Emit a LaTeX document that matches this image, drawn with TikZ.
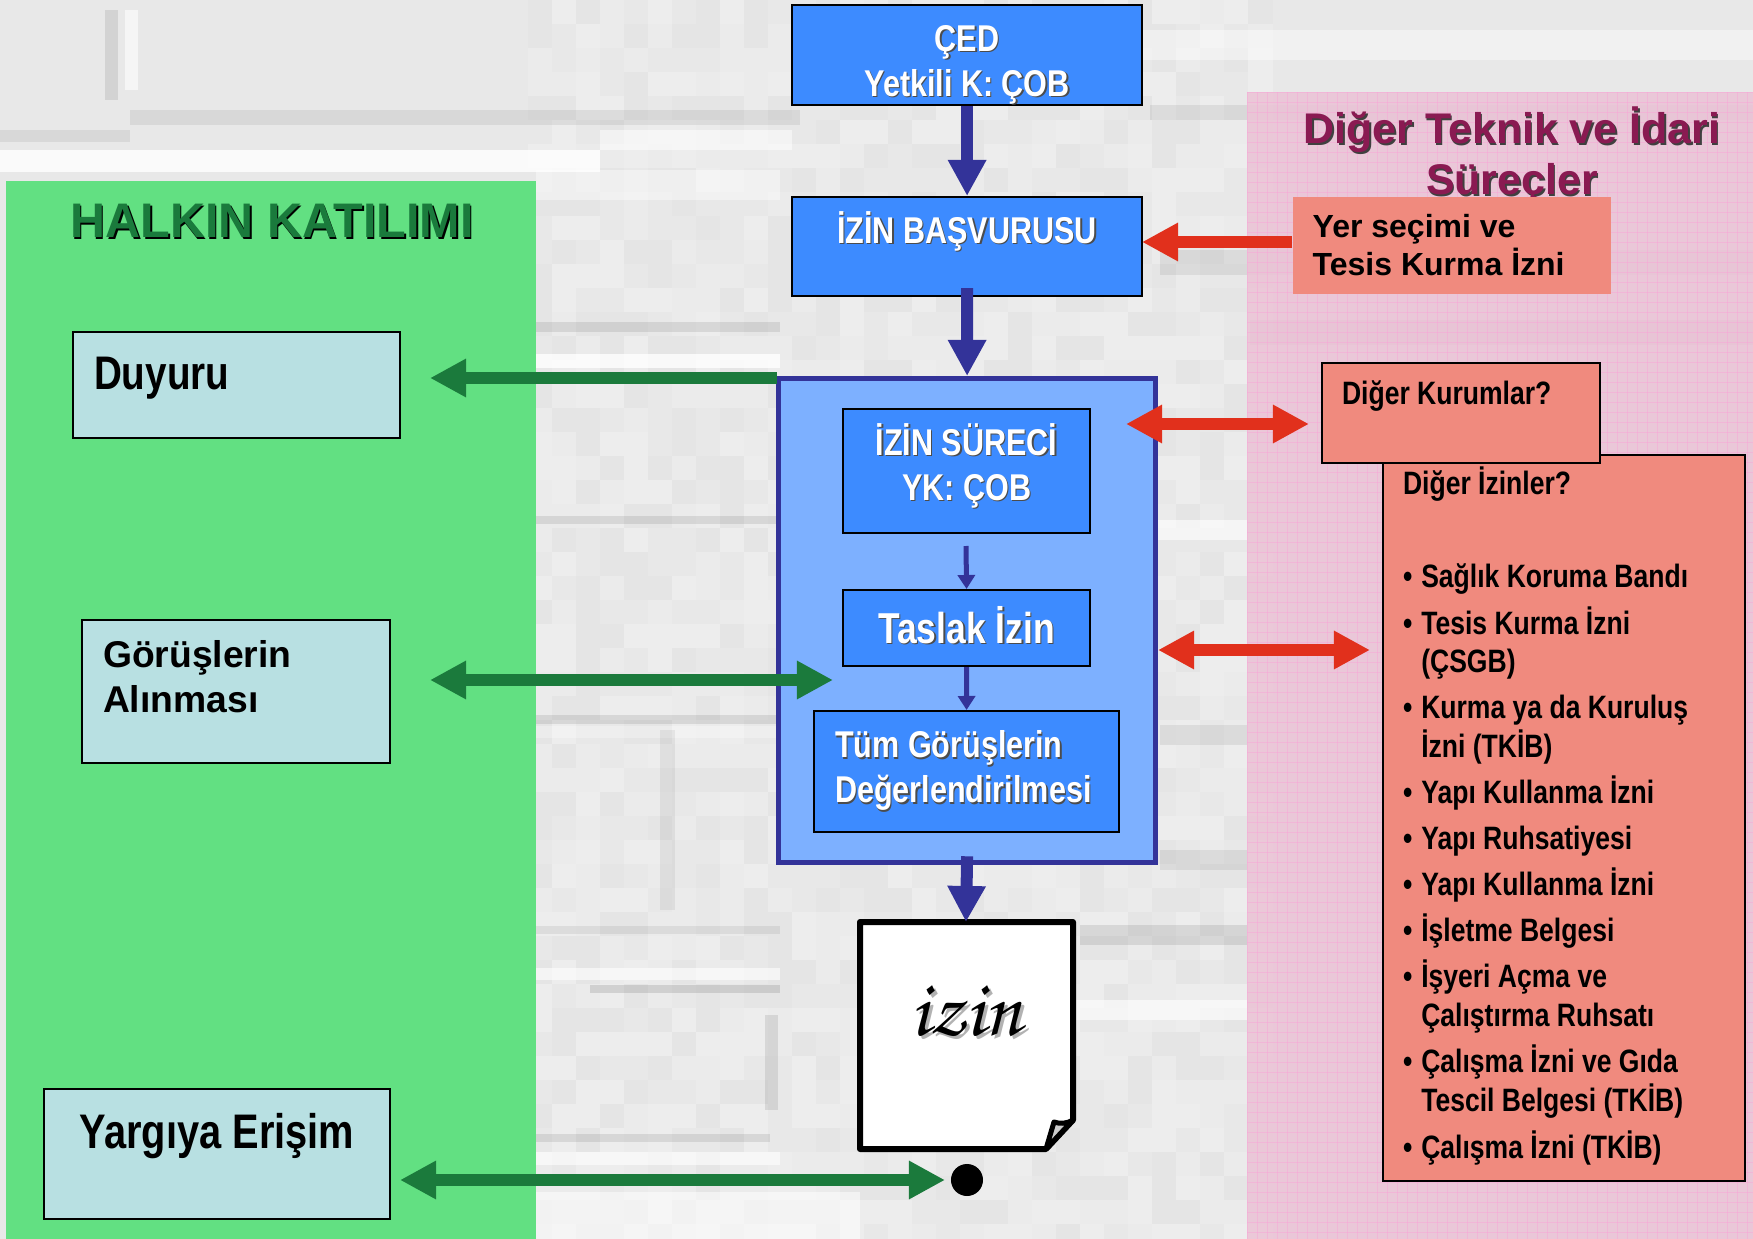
\documentclass[tikz,border=0pt]{standalone}
\usepackage{fontspec}
\setmainfont{Liberation Sans}
\newfontfamily\narrowfont[FakeStretch=0.82]{Liberation Sans}
\usetikzlibrary{arrows.meta}
\definecolor{greenpanel}{HTML}{62E082}
\definecolor{pinkpanel}{HTML}{EBC3D6}
\definecolor{boxblue}{HTML}{3D8BFF}
\definecolor{lightblue}{HTML}{7DB0FF}
\definecolor{navy}{HTML}{333399}
\definecolor{salmon}{HTML}{F08A7E}
\definecolor{paleteal}{HTML}{B8E0E2}
\definecolor{arrowred}{HTML}{E1301C}
\definecolor{arrowgreen}{HTML}{1B7A3C}
\definecolor{titlegreen}{HTML}{1A7A3C}
\definecolor{titleplum}{HTML}{8A1A52}
\newcommand{\shadowtxt}[2]{\leavevmode\rlap{\color{#1}\raisebox{-.035em}{\kern.035em #2}}#2}
\tikzset{
	bluebox/.style={draw=black, fill=boxblue, line width=.02cm, text=white, align=center, font=\narrowfont\bfseries\fontsize{10.6}{12.8}\selectfont, inner sep=0pt},
	tealbox/.style={draw=black, fill=paleteal, line width=.02cm, anchor=north west, align=flush left, inner xsep=.21cm, inner ysep=0pt},
	salmonbox/.style={fill=salmon, anchor=north west, align=flush left, inner ysep=0pt},
	thickblue/.style={draw=navy, line width=.12cm, -{Triangle[length=.36cm,width=.36cm]}},
	thinblue/.style={draw=navy, line width=.05cm, -{Triangle[length=.14cm,width=.17cm]}},
	redarrow/.style={draw=arrowred, line width=.12cm, -{Triangle[length=.36cm,width=.36cm]}},
	redboth/.style={draw=arrowred, line width=.12cm, {Triangle[length=.36cm,width=.36cm]}-{Triangle[length=.36cm,width=.36cm]}},
	greenarrow/.style={draw=arrowgreen, line width=.12cm, -{Triangle[length=.36cm,width=.36cm]}},
	greenboth/.style={draw=arrowgreen, line width=.12cm, {Triangle[length=.36cm,width=.36cm]}-{Triangle[length=.36cm,width=.36cm]}}
}
\begin{document}
\begin{tikzpicture}[x=.01cm,y=-.01cm]
	\useasboundingbox (0,0) rectangle (1753,1239);
	% wall
	\pgfmathsetseed{4711}
	\fill[black!9] (0,0) rectangle (1753,1239);
	\foreach \row in {0,...,51}
		\foreach \col in {22,...,52}{
			\pgfmathsetmacro\tone{int(7+rnd*4)}
			\fill[black!\tone] (\col*24,\row*24) rectangle (\col*24+25,\row*24+25);
		}
	\foreach \xa/\ya/\xb/\yb/\shade/\op in {130/110/800/125/gray/.15, 0/130/130/142/gray/.15, 0/150/600/172/white/.8, 600/130/792/150/white/.5, 105/10/118/100/gray/.2, 125/10/138/90/white/.6, 536/170/780/200/white/.4, 536/322/780/332/gray/.2, 536/354/780/368/white/.8, 536/516/780/524/gray/.2, 536/715/780/724/gray/.2, 536/726/780/738/white/.3, 536/926/780/934/gray/.15, 536/968/780/980/white/.6, 590/985/780/993/gray/.25, 536/1134/770/1142/gray/.2, 536/1152/780/1165/white/.6, 536/1192/860/1239/white/.5, 660/730/675/910/gray/.12, 765/1015/778/1110/gray/.2, 1080/925/1247/945/gray/.2, 1075/1000/1247/1020/white/.6, 1160/250/1753/275/gray/.15, 1145/520/1247/540/white/.6, 1160/725/1247/745/gray/.15, 1150/105/1753/120/gray/.15, 1160/850/1247/870/gray/.15, 1250/320/1753/345/gray/.2, 1142/30/1753/60/white/.4}
		\fill[\shade, opacity=\op] (\xa,\ya) rectangle (\xb,\yb);
	% panels
	\fill[greenpanel] (6,181) rectangle (536,1239);
	\fill[pinkpanel, opacity=.88] (1247,92) rectangle (1753,1239);
	\foreach \i in {0,...,50}
		\draw[magenta!35, line width=.008cm, opacity=.5] (1247+\i*10,92) -- (1247+\i*10,1239);
	\foreach \i in {0,...,114}
		\draw[magenta!35, line width=.008cm, opacity=.5] (1247,92+\i*10) -- (1753,92+\i*10);
	% titles
	\node[font=\bfseries\fontsize{13.8}{16}\selectfont, text=titlegreen] (halkin) at (272,222) {\shadowtxt{black}{HALKIN KATILIMI}};
	\node[font=\bfseries\fontsize{12.2}{14.6}\selectfont, text=titleplum, align=center] (diger) at (1512,156) {\shadowtxt{black!75}{Diğer Teknik ve İdari}\\\shadowtxt{black!75}{Süreçler}};
	% left boxes
	\node[tealbox, minimum height=1.06cm, text width=2.85cm, text depth=.24cm, font=\narrowfont\bfseries\fontsize{13.4}{16}\selectfont] (duyuru) at (72,331) {Duyuru};
	\node[tealbox, minimum height=1.43cm, text width=2.66cm, font=\bfseries\fontsize{10.6}{12.8}\selectfont] (gorus) at (81,619) {Görüşlerin\\Alınması\rule[-.31cm]{0pt}{0pt}};
	\node[tealbox, minimum height=1.30cm, text width=3.04cm, text depth=.47cm, align=flush center, font=\narrowfont\bfseries\fontsize{13.8}{16}\selectfont] (yargi) at (43,1088) {Yargıya Erişim};
	% middle column
	\node[bluebox, anchor=north west, minimum width=3.5cm, minimum height=1cm] (ced) at (791,4) {\rule{0pt}{.46cm}\shadowtxt{black!70}{ÇED}\\\shadowtxt{black!70}{Yetkili K: ÇOB}};
	\node[bluebox, anchor=north west, minimum width=3.5cm, minimum height=.99cm, text depth=.38cm] (basvuru) at (791,196) {\shadowtxt{black!70}{İZİN BAŞVURUSU}};
	\node[draw=navy, fill=lightblue, line width=.05cm, anchor=north west, minimum width=3.77cm, minimum height=4.84cm] (surec) at (776,376) {};
	\node[bluebox, anchor=north west, minimum width=2.47cm, minimum height=1.24cm] (izinsurec) at (842,408) {\shadowtxt{black!70}{İZİN SÜRECİ}\\\shadowtxt{black!70}{YK: ÇOB}\rule[-.18cm]{0pt}{0pt}};
	\node[bluebox, anchor=north west, minimum width=2.47cm, minimum height=.76cm, text depth=.07cm, font=\narrowfont\bfseries\fontsize{12.3}{14}\selectfont] (taslak) at (842,589) {\shadowtxt{black!70}{Taslak İzin}};
	\node[bluebox, anchor=north west, minimum width=3.05cm, minimum height=1.21cm, align=flush left, text width=2.63cm, inner xsep=.21cm] (tum) at (813,710) {\shadowtxt{black!70}{Tüm Görüşlerin}\\\shadowtxt{black!70}{Değerlendirilmesi}};
	% paper
	\coordinate (paper) at (966,922);
	\draw[black, fill=white, line width=.06cm, line join=round] (860,922) -- (1073,922) -- (1073,1120) -- (1046,1149) -- (860,1149) -- cycle;
	\draw[black, fill=gray!40, line width=.05cm, line join=round] (1046,1149) -- (1054,1122) .. controls (1060,1124) and (1066,1124) .. (1073,1120) -- cycle;
	\node[font=\usefont{T1}{pzc}{mb}{it}\fontsize{23}{26}\selectfont] (izin) at (966,1013) {\shadowtxt{gray!60}{izin}};
	\node[circle, fill=black, minimum size=.32cm, inner sep=0pt] (dot) at (967,1180) {};
	% right boxes
	\node[salmonbox, minimum height=.97cm, text width=2.78cm, inner xsep=.2cm, font=\bfseries\fontsize{9.1}{10.9}\selectfont] (yer) at (1292,196) {Yer seçimi ve\\Tesis Kurma İzni};
	\node[salmonbox, draw=black, line width=.02cm, minimum height=7.26cm, text width=3.22cm, inner xsep=.2cm, font=\narrowfont\bfseries\fontsize{9.2}{11}\selectfont] (izinler) at (1382,454) {Diğer İzinler?\\[.56cm]
		\begin{tabular}{@{}l@{\hspace{.09cm}}l@{}}
		• & Sağlık Koruma Bandı\\[1.95pt]
		• & Tesis Kurma İzni\\
		& (ÇSGB)\\[1.95pt]
		• & Kurma ya da Kuruluş\\
		& İzni (TKİB)\\[1.95pt]
		• & Yapı Kullanma İzni\\[1.95pt]
		• & Yapı Ruhsatiyesi\\[1.95pt]
		• & Yapı Kullanma İzni\\[1.95pt]
		• & İşletme Belgesi\\[1.95pt]
		• & İşyeri Açma ve\\
		& Çalıştırma Ruhsatı\\[1.95pt]
		• & Çalışma İzni ve Gıda\\
		& Tescil Belgesi (TKİB)\\[1.95pt]
		• & Çalışma İzni (TKİB)
		\end{tabular}};
	\node[salmonbox, draw=black, line width=.02cm, minimum height=1cm, text width=2.38cm, inner xsep=.2cm, text depth=.41cm, font=\narrowfont\bfseries\fontsize{9.2}{11}\selectfont] (kurumlar) at (1321,362) {Diğer Kurumlar?};
	% arrows
	\coordinate (duyuruEnd) at (430,378);
	\coordinate (surecTop) at (777,378);
	\coordinate (gorusL) at (430,680);
	\coordinate (gorusR) at (833,680);
	\coordinate (yargiL) at (400,1180);
	\coordinate (yargiR) at (945,1180);
	\coordinate (yerPort) at (1292,242);
	\coordinate (basvuruPort) at (1142,242);
	\coordinate (redL) at (1126,424);
	\coordinate (redR) at (1309,424);
	\coordinate (red2L) at (1158,650);
	\coordinate (red2R) at (1370,650);
	\coordinate (surecStart) at (966,546);
	\draw[thickblue] (ced.south) -- (basvuru.north);
	\draw[thickblue] (basvuru.south) ++(0,-9) -- (surec.north);
	\draw[thickblue] (surec.south) ++(0,-9) -- (paper);
	\draw[thinblue] (surecStart) -- (taslak.north);
	\draw[thinblue] (taslak.south) -- (tum.north);
	\draw[redarrow] (yerPort) -- (basvuruPort);
	\draw[redboth] (redL) -- (redR);
	\draw[redboth] (red2L) -- (red2R);
	\draw[greenarrow] (surecTop) -- (duyuruEnd);
	\draw[greenboth] (gorusL) -- (gorusR);
	\draw[greenboth] (yargiL) -- (yargiR);
\end{tikzpicture}
\end{document}
